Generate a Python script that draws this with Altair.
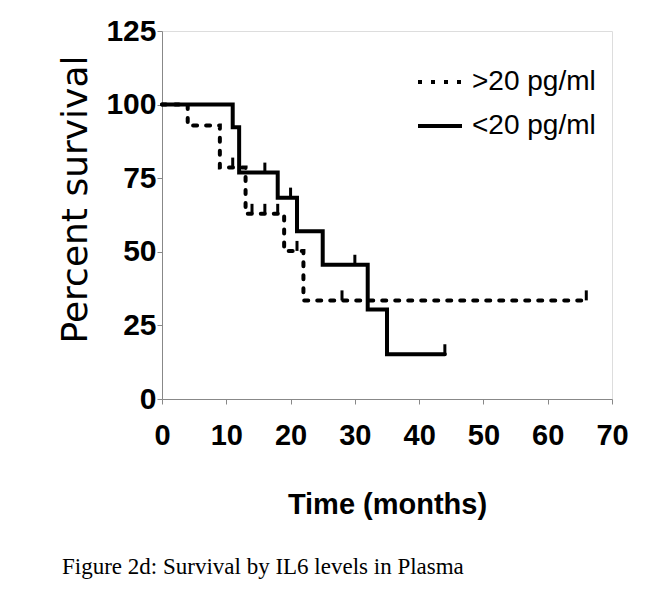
import altair as alt
import pandas as pd

# Kaplan-Meier step data
hi_label = ">20 pg/ml"
lo_label = "<20 pg/ml"

hi_times = [0, 4, 9, 13, 19, 22, 66]
hi_surv = [100, 92.9, 78.6, 62.9, 50.3, 33.5, 33.5]
hi_cens_times = [11, 14, 16, 18, 21, 28, 66]
hi_cens_surv = [78.6, 62.9, 62.9, 62.9, 50.3, 33.5, 33.5]

lo_times = [0, 11, 12, 18, 21, 25, 32, 35, 44]
lo_surv = [100, 92.3, 76.9, 68.4, 57.0, 45.6, 30.4, 15.2, 15.2]
lo_cens_times = [16, 20, 30, 44]
lo_cens_surv = [76.9, 68.4, 45.6, 15.2]

x_ticks = [0, 10, 20, 30, 40, 50, 60, 70]
y_ticks = [0, 25, 50, 75, 100, 125]

steps = pd.concat([
    pd.DataFrame({"t": hi_times, "s": hi_surv, "g": hi_label}),
    pd.DataFrame({"t": lo_times, "s": lo_surv, "g": lo_label}),
])
cens = pd.concat([
    pd.DataFrame({"t": hi_cens_times, "s": hi_cens_surv, "g": hi_label}),
    pd.DataFrame({"t": lo_cens_times, "s": lo_cens_surv, "g": lo_label}),
])

bold_font = "Liberation Sans"

x_enc = alt.X("t:Q", scale=alt.Scale(domain=[0, 70], nice=False),
              axis=alt.Axis(values=x_ticks, title="Time (months)", grid=False,
                            labelFont=bold_font, labelFontWeight="bold", labelFontSize=29,
                            labelPadding=17, titleFont=bold_font, titleFontWeight="bold",
                            titleFontSize=29, titlePadding=40, labelFlush=False))
y_enc = alt.Y("s:Q", scale=alt.Scale(domain=[0, 125], nice=False),
              axis=alt.Axis(values=y_ticks, title="Percent survival", grid=False,
                            labelFont=bold_font, labelFontWeight="bold", labelFontSize=30,
                            labelPadding=1, titleFont="DejaVu Sans", titleFontWeight="normal",
                            titleFontSize=36, titleX=-76, titleY=168, titleAngle=-90,
                            titleBaseline="alphabetic", titleAlign="center", labelFlush=False))

dash = alt.StrokeDash("g:N", scale=alt.Scale(domain=[hi_label, lo_label], range=[[4, 9], [1, 0]]),
                      legend=alt.Legend(title=None, orient="none", legendX=254, legendY=27,
                                        symbolType="stroke", symbolSize=1936, symbolStrokeWidth=4,
                                        symbolStrokeColor="black", labelFont="Liberation Sans",
                                        labelFontSize=28, labelOffset=8, rowPadding=6,
                                        labelColor="black"))

lines = alt.Chart(steps).mark_line(interpolate="step-after", color="black", strokeWidth=4,
                                   strokeCap="round").encode(x=x_enc, y=y_enc, strokeDash=dash)

ticks = alt.Chart(cens).mark_tick(orient="vertical", color="black", size=10, thickness=3,
                                  yOffset=-5, opacity=1).encode(x="t:Q", y="s:Q", detail="g:N")

chart = (lines + ticks).properties(
    width=450, height=368,
    padding={"left": 49, "top": 8, "right": 5, "bottom": 5},
    title=alt.TitleParams("Figure 2d: Survival by IL6 levels in Plasma", orient="bottom",
                          anchor="start", font="Liberation Serif", fontSize=23,
                          fontWeight="normal", offset=37, dx=5, color="black"),
).configure_view(stroke=None).configure_axis(
    domainColor="black", domainWidth=3, tickColor="black", tickWidth=3, tickSize=9,
    labelColor="black", titleColor="black"
).configure(background="white")

chart.save("out.html", embed_options={"renderer": "svg", "actions": False})
